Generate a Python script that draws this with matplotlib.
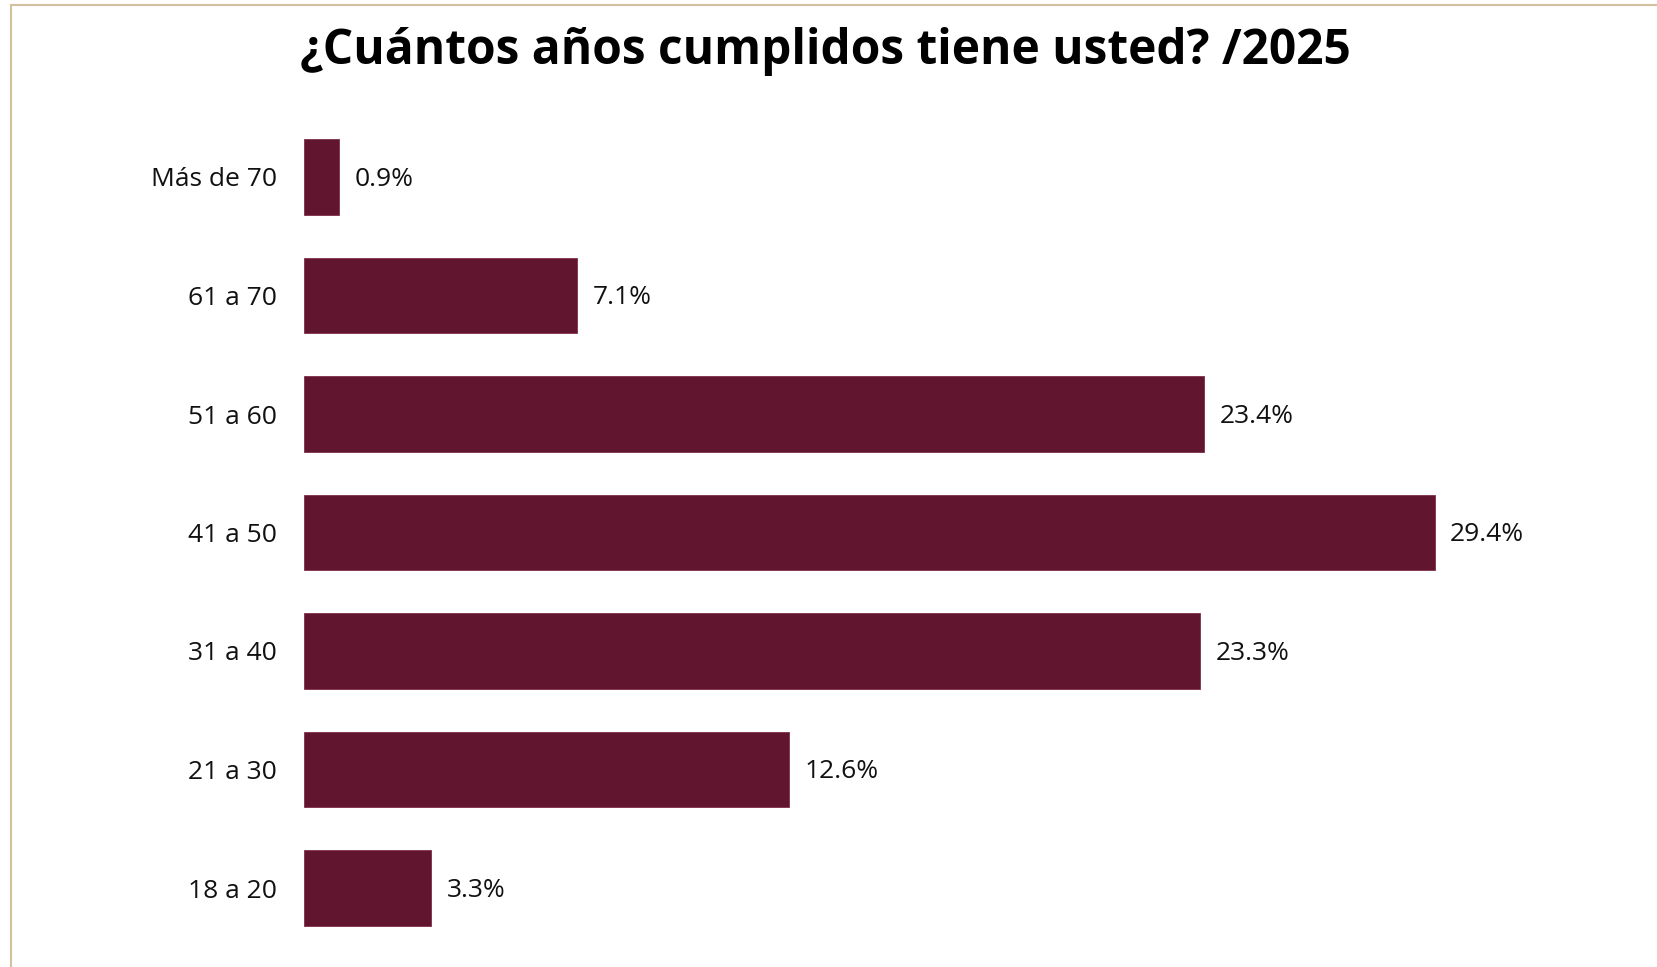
import matplotlib.pyplot as plt
from matplotlib.lines import Line2D

plt.rcParams['font.family'] = ['Open Sans', 'DejaVu Sans']

# Age brackets, top to bottom, and share of respondents (%)
categories = ["Más de 70", "61 a 70", "51 a 60", "41 a 50", "31 a 40", "21 a 30", "18 a 20"]
values = [0.9, 7.1, 23.4, 29.4, 23.3, 12.6, 3.3]

BAR_COLOR = "#62152f"
FRAME_COLOR = "#d4c09c"

W, H, DPI = 1658, 967, 100
fig = plt.figure(figsize=(W / DPI, H / DPI), dpi=DPI)

# axes placed in pixel terms: bars start at x=304, 38.45 px per percent
left, right = 304.5, 304.5 + 30 * 38.45
top, bottom = 117.75, 947.25
ax = fig.add_axes([left / W, 1 - bottom / H, (right - left) / W, (bottom - top) / H])

y = list(range(len(categories)))
ax.barh(y, values, height=0.64, color=BAR_COLOR, edgecolor="#7d2f49", linewidth=0.6)
ax.set_xlim(0, 30)
ax.set_ylim(len(categories) - 0.5, -0.5)

for yi, v in zip(y, values):
    ax.annotate(f"{v}%", (v, yi), xytext=(11, -1.5), textcoords="offset points",
                va="center", ha="left", fontsize=19, color="#111111")

ax.set_yticks(y)
ax.set_yticklabels(categories, fontsize=19, color="#111111")
ax.tick_params(axis="y", length=0, pad=20)
ax.set_xticks([])
for s in ax.spines.values():
    s.set_visible(False)

fig.text(825 / W, 1 - 52 / H, "¿Cuántos años cumplidos tiene usted? /2025",
         ha="center", va="center", fontsize=34.5, fontweight="bold", color="#000000")

# thin frame along the top and left edges
fig.add_artist(Line2D([11.5 / W, 11.5 / W], [0, 1 - 5 / H], transform=fig.transFigure,
                      color=FRAME_COLOR, linewidth=1.5))
fig.add_artist(Line2D([11.5 / W, 1], [1 - 5 / H, 1 - 5 / H], transform=fig.transFigure,
                      color=FRAME_COLOR, linewidth=1.5))

fig.savefig("out.png", dpi=DPI)
